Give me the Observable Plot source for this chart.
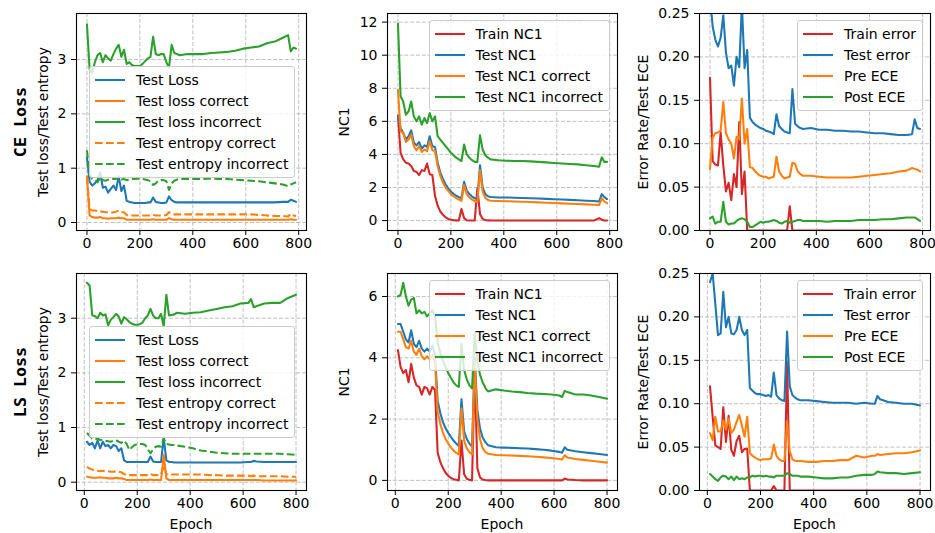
<!DOCTYPE html>
<html><head><meta charset="utf-8">
<script src="https://cdn.jsdelivr.net/npm/d3@7"></script>
<script src="https://cdn.jsdelivr.net/npm/@observablehq/plot@0.6"></script>
<style>
html,body{margin:0;padding:0;background:#fff;}
#fig{position:relative;width:935px;height:533px;overflow:hidden;font-family:'DejaVu Sans',sans-serif;color:#000;background:#fff;}
.ylab{position:absolute;font-size:14px;white-space:nowrap;transform:translate(-50%,-50%) rotate(-90deg);}
.rowlab{position:absolute;font-family:'DejaVu Sans Mono',monospace;font-weight:bold;font-size:16.7px;white-space:nowrap;transform:translate(-50%,-50%) rotate(-90deg);}
.xlab{position:absolute;font-size:14px;white-space:nowrap;transform:translate(-50%,-50%);}
.legend{position:absolute;background:rgba(255,255,255,0.8);border:1px solid #cccccc;border-radius:3px;padding:2px 6px 2px 5px;font-size:14px;}
.legend .row{display:flex;align-items:center;height:21.2px;white-space:nowrap;}
.legend svg{margin-right:11px;display:block;}
</style></head>
<body>
<div id="fig"></div>
<script>
// ---------------- data ----------------
const epochsTop = [0,10,20,30,40,50,60,70,80,90,100,110,120,130,140,150,160,170,180,190,200,210,220,230,240,250,260,270,280,290,300,310,320,330,340,350,380,410,440,470,500,530,560,590,620,650,680,710,740,760,770,780,790];
const epochsBottom = [10,20,30,40,50,60,70,80,90,100,110,120,130,140,150,160,170,180,190,200,210,220,230,240,250,260,270,280,290,300,310,320,330,340,350,380,410,440,470,500,530,560,590,620,630,640,650,680,710,740,770,800];
const xTicks = [0,200,400,600,800];

// CE loss - panel 1
const ceTestLoss = [1.2,0.75,0.68,0.72,0.78,0.92,0.64,0.66,0.55,0.62,
 0.68,0.6,0.85,0.58,0.68,0.4,0.38,0.37,0.36,0.36,
 0.36,0.36,0.36,0.37,0.37,0.46,0.38,0.37,0.36,0.36,
 0.37,0.48,0.41,0.38,0.37,0.37,
 0.37,0.37,0.37,0.37,0.37,0.37,0.37,0.37,0.37,0.37,0.37,0.37,0.38,
 0.38,0.42,0.4,0.38];
const ceLossCorrect = [0.85,0.13,0.1,0.09,0.09,0.1,0.08,0.08,0.07,0.08,
 0.08,0.08,0.09,0.08,0.08,0.05,0.05,0.05,0.05,0.05,
 0.05,0.05,0.05,0.05,0.05,0.06,0.05,0.05,0.05,0.05,
 0.05,0.08,0.06,0.05,0.05,0.05,
 0.05,0.05,0.05,0.05,0.05,0.05,0.05,0.05,0.05,0.05,0.05,0.05,0.05,
 0.05,0.06,0.05,0.05];
const ceLossIncorrect = [3.65,2.82,2.75,2.95,3.08,3.12,2.95,3.08,3.02,2.98,
 3.1,3.2,3.27,3.05,3.18,2.92,2.95,2.9,2.88,2.88,
 2.88,2.92,2.97,3.02,3.05,3.42,3.1,3.08,3.1,3.1,
 2.95,2.85,3.27,3.12,3.1,3.08,
 3.1,3.1,3.1,3.12,3.13,3.14,3.16,3.2,3.22,3.24,3.3,3.33,3.4,
 3.45,3.15,3.22,3.2];
const ceEntCorrect = [0.85,0.25,0.22,0.22,0.21,0.2,0.2,0.19,0.19,0.18,
 0.19,0.2,0.22,0.19,0.19,0.14,0.13,0.13,0.13,0.13,
 0.13,0.13,0.13,0.13,0.13,0.14,0.13,0.13,0.13,0.13,
 0.14,0.19,0.16,0.15,0.15,0.15,
 0.15,0.15,0.15,0.15,0.15,0.15,0.15,0.15,0.15,0.14,0.13,0.12,0.12,
 0.11,0.16,0.13,0.12];
const ceEntIncorrect = [1.33,0.88,0.8,0.78,0.74,0.83,0.78,0.77,0.79,0.8,
 0.8,0.8,0.84,0.79,0.8,0.78,0.79,0.8,0.8,0.81,
 0.8,0.8,0.79,0.78,0.76,0.69,0.72,0.77,0.78,0.78,
 0.76,0.6,0.72,0.77,0.79,0.8,
 0.8,0.8,0.8,0.81,0.8,0.8,0.79,0.78,0.77,0.76,0.74,0.72,0.7,
 0.67,0.7,0.72,0.74];

// CE loss - panel 2
const ceTrainNC1 = [6.35,4.1,3.7,3.5,3.45,3.3,3.0,2.95,2.75,3.05,
 3.0,3.45,2.8,2.75,1.5,0.9,0.55,0.35,0.2,0.1,
 0.05,0.02,0.01,0.0,0.7,0.15,0.02,0.0,0.0,0.0,
 1.95,0.4,0.1,0.03,0.01,0.0,
 0,0,0,0,0,0,0,0,0,0,0,0,0,
 0.15,0.05,0.0,0.0];
const ceTestNC1 = [6.3,5.6,5.3,4.9,5.1,5.45,4.7,4.55,4.75,4.35,
 4.55,4.45,5.1,4.5,4.45,3.5,2.9,2.5,2.2,1.95,
 1.75,1.62,1.5,1.42,1.35,2.35,1.8,1.6,1.45,1.35,
 1.3,3.35,2.0,1.6,1.47,1.43,
 1.4,1.4,1.38,1.37,1.35,1.33,1.31,1.29,1.27,1.25,1.23,1.2,1.18,
 1.15,1.6,1.42,1.3];
const ceTestNC1Correct = [7.9,5.4,5.3,4.75,4.9,5.2,4.5,4.25,4.5,4.15,
 4.3,4.2,4.8,4.25,4.2,3.3,2.7,2.3,2.0,1.8,
 1.6,1.47,1.36,1.27,1.2,2.15,1.6,1.4,1.27,1.18,
 1.12,3.05,1.75,1.38,1.25,1.2,
 1.18,1.17,1.15,1.14,1.12,1.1,1.08,1.06,1.04,1.02,1.0,0.98,0.96,
 0.94,1.35,1.15,1.05];
const ceTestNC1Incorrect = [11.9,7.5,7.2,6.4,6.6,7.2,6.3,6.0,6.3,5.8,
 6.2,5.9,6.5,6.0,6.3,5.1,4.9,4.7,4.5,4.3,
 4.1,3.95,3.8,3.7,3.6,4.6,4.0,3.8,3.65,3.55,
 3.55,5.15,4.3,3.95,3.8,3.7,
 3.65,3.62,3.6,3.6,3.58,3.55,3.52,3.48,3.45,3.42,3.4,3.35,3.3,
 3.25,3.82,3.55,3.55];

// CE loss - panel 3
const ceTrainErr = [0.176,0.08,0.076,0.075,0.113,0.075,0.045,0.055,0.035,0.065,
 0.05,0.125,0.042,0.068,0,0,0,0,0,0,
 0,0,0,0,0,0,0,0,0,0,
 0.028,0,0,0,0,0,
 0,0,0,0,0,0,0,0,0,0,0,0,0,
 0,0,0,0];
const ceTestErr = [0.27,0.235,0.22,0.212,0.222,0.248,0.205,0.187,0.19,0.167,
 0.2,0.188,0.26,0.187,0.208,0.13,0.125,0.122,0.12,0.118,
 0.117,0.115,0.114,0.113,0.111,0.134,0.12,0.117,0.114,0.113,
 0.112,0.163,0.123,0.12,0.118,0.117,
 0.118,0.116,0.116,0.115,0.115,0.114,0.114,0.113,0.112,0.112,0.111,0.11,0.11,
 0.111,0.128,0.118,0.117];
const cePreECE = [0.071,0.107,0.112,0.113,0.115,0.148,0.112,0.105,0.1,0.083,
 0.108,0.105,0.152,0.1,0.117,0.073,0.072,0.068,0.065,0.063,
 0.062,0.062,0.06,0.061,0.062,0.085,0.068,0.063,0.06,0.061,
 0.062,0.078,0.077,0.068,0.065,0.063,
 0.063,0.062,0.061,0.061,0.061,0.061,0.062,0.063,0.064,0.065,0.066,0.068,0.069,
 0.072,0.071,0.07,0.068];
const cePostECE = [0.014,0.016,0.008,0.01,0.01,0.033,0.01,0.007,0.008,0.008,
 0.011,0.013,0.014,0.013,0.01,0.004,0.004,0.006,0.008,0.01,
 0.009,0.01,0.01,0.011,0.012,0.011,0.009,0.008,0.01,0.011,
 0.009,0.01,0.011,0.012,0.012,0.011,
 0.011,0.011,0.01,0.011,0.011,0.011,0.012,0.012,0.012,0.013,0.013,0.014,0.015,
 0.015,0.015,0.013,0.011];

// LS loss - panel 4
const lsTestLoss = [0.74,0.68,0.72,0.62,0.76,0.62,0.74,0.66,0.68,0.62,
 0.68,0.66,0.57,0.62,0.4,0.37,0.37,0.37,0.37,0.37,
 0.37,0.37,0.37,0.37,0.47,0.38,0.37,0.37,0.37,0.82,
 0.4,0.37,0.37,0.36,0.36,
 0.36,0.36,0.36,0.36,0.36,0.36,0.36,0.36,0.37,0.37,0.39,0.38,0.37,0.37,0.37,0.37,0.37];
const lsLossCorrect = [0.1,0.09,0.08,0.08,0.08,0.09,0.08,0.08,0.07,0.07,
 0.07,0.08,0.07,0.07,0.06,0.04,0.04,0.04,0.04,0.04,
 0.04,0.04,0.04,0.04,0.05,0.04,0.04,0.04,0.04,0.5,
 0.07,0.04,0.04,0.04,0.04,
 0.04,0.04,0.04,0.04,0.04,0.04,0.04,0.04,0.04,0.04,0.04,0.04,0.03,0.03,0.03,0.03,0.03];
const lsLossIncorrect = [3.65,3.6,3.05,3.04,3.0,3.1,3.05,3.07,2.87,2.97,
 3.02,3.08,3.03,2.9,3.02,2.98,2.93,2.9,2.88,2.88,
 2.89,2.92,3.0,3.05,3.17,3.05,3.0,3.0,3.08,2.85,
 3.43,3.05,3.06,3.07,3.1,
 3.08,3.1,3.11,3.14,3.17,3.2,3.22,3.27,3.28,3.35,3.2,3.22,3.27,3.28,3.28,3.37,3.43];
const lsEntCorrect = [0.28,0.25,0.23,0.22,0.21,0.2,0.21,0.2,0.2,0.19,
 0.19,0.2,0.19,0.18,0.15,0.13,0.13,0.13,0.13,0.13,
 0.13,0.13,0.13,0.13,0.15,0.13,0.13,0.13,0.14,0.3,
 0.15,0.14,0.14,0.14,0.14,
 0.14,0.14,0.14,0.13,0.13,0.12,0.12,0.12,0.12,0.11,0.12,0.11,0.11,0.11,0.11,0.1,0.1];
const lsEntIncorrect = [0.9,0.85,0.8,0.78,0.8,0.77,0.78,0.76,0.75,0.74,
 0.76,0.77,0.74,0.72,0.76,0.7,0.59,0.64,0.68,0.69,
 0.7,0.7,0.68,0.6,0.53,0.6,0.65,0.66,0.65,0.8,
 0.7,0.69,0.68,0.68,0.67,
 0.65,0.62,0.58,0.56,0.54,0.53,0.52,0.52,0.52,0.52,0.52,0.52,0.52,0.52,0.52,0.51,0.5];

// LS loss - panel 5
const lsTrainNC1 = [4.25,3.7,3.5,3.6,3.2,3.8,3.35,3.1,3.05,2.8,
 3.05,3.0,2.8,3.05,2.95,0.9,0.6,0.4,0.25,0.15,
 0.08,0.04,0.02,0.0,1.3,0.2,0.05,0.02,0.0,3.7,
 0.4,0.1,0.03,0.01,0.0,
 0,0,0,0,0,0,0,0,0,0,0.06,0.03,0.01,0,0,0,0];
const lsTestNC1 = [5.1,5.1,4.85,4.6,4.5,4.9,4.45,4.35,4.55,4.3,
 4.2,4.3,4.2,4.4,4.1,2.6,2.2,1.9,1.7,1.55,
 1.42,1.3,1.2,1.12,2.65,1.6,1.35,1.2,1.1,4.0,
 2.3,1.7,1.4,1.25,1.15,
 1.08,1.07,1.06,1.05,1.04,1.02,1.0,0.97,0.93,0.9,1.08,1.0,0.95,0.92,0.89,0.86,0.83];
const lsTestNC1Correct = [4.85,4.85,4.6,4.35,4.3,4.55,4.2,4.1,4.3,4.05,
 3.95,4.05,3.95,4.1,3.85,2.25,1.85,1.55,1.35,1.2,
 1.07,0.97,0.9,0.85,2.35,1.3,1.05,0.92,0.85,3.85,
 2.0,1.35,1.05,0.93,0.87,
 0.83,0.82,0.81,0.8,0.79,0.77,0.75,0.73,0.7,0.68,0.82,0.75,0.7,0.67,0.64,0.61,0.58];
const lsTestNC1Incorrect = [6.0,6.05,6.45,6.0,5.7,5.9,5.95,5.45,5.55,5.45,
 5.5,5.35,5.45,5.55,5.35,4.5,4.15,3.9,3.7,3.5,
 3.35,3.2,3.1,3.05,4.45,3.6,3.3,3.1,3.0,4.8,
 3.9,3.45,3.2,3.02,2.9,
 2.97,2.93,2.9,2.88,2.85,2.83,2.82,2.8,2.77,2.72,2.92,2.88,2.8,2.8,2.77,2.72,2.66];

// LS loss - panel 6
const lsTrainErr = [0.12,0.085,0.052,0.05,0.048,0.096,0.056,0.086,0.047,0.04,
 0.057,0.063,0.044,0.048,0.048,0,0,0,0,0,
 0,0,0,0,0.005,0,0,0,0,0.148,
 0,0,0,0,0,
 0,0,0,0,0,0,0,0,0,0,0,0,0,0,0,0,0];
const lsTestErr = [0.24,0.25,0.215,0.179,0.181,0.229,0.188,0.2,0.181,0.18,
 0.185,0.2,0.185,0.179,0.185,0.118,0.115,0.112,0.111,0.111,
 0.11,0.109,0.11,0.108,0.136,0.11,0.106,0.104,0.103,0.183,
 0.12,0.11,0.107,0.105,0.104,
 0.104,0.103,0.102,0.101,0.101,0.101,0.1,0.101,0.1,0.1,0.109,0.105,0.102,0.101,0.1,0.1,0.098];
const lsPreECE = [0.066,0.058,0.085,0.068,0.068,0.081,0.07,0.083,0.066,0.07,
 0.079,0.087,0.075,0.062,0.085,0.043,0.04,0.038,0.036,0.035,
 0.036,0.036,0.036,0.037,0.053,0.04,0.036,0.034,0.034,0.08,
 0.045,0.036,0.034,0.034,0.034,
 0.033,0.033,0.034,0.034,0.035,0.035,0.04,0.038,0.04,0.04,0.042,0.041,0.042,0.043,0.043,0.044,0.046];
const lsPostECE = [0.019,0.016,0.013,0.011,0.015,0.017,0.016,0.013,0.016,0.012,
 0.016,0.013,0.014,0.013,0.015,0.015,0.017,0.016,0.017,0.017,
 0.016,0.017,0.016,0.016,0.015,0.017,0.017,0.017,0.017,0.02,
 0.019,0.017,0.017,0.017,0.016,
 0.016,0.015,0.014,0.014,0.015,0.015,0.017,0.018,0.018,0.019,0.022,0.021,0.02,0.02,0.019,0.02,0.021];

// tick labels
const lossTicks = [0,1,2,3];
const nc1TicksTop = [0,2,4,6,8,10,12];
const nc1TicksBottom = [0,2,4,6];
const errTicks = [0,0.05,0.10,0.15,0.20,0.25];

// ---------------- styles / layout ----------------
const C = {blue:"#1f77b4", orange:"#ff7f0e", green:"#2ca02c", red:"#d62728"};
const LW = 2.08, DASH = "7.7,3.3";
const fig = document.getElementById("fig");
const colLeft = [76, 387, 699], colW = [230, 230, 231];
const rowTop = [13, 273], FH = 217;
const ML = 70, MR = 10, MT = 8, MB = 30;

function makePanel(p) {
  const fl = colLeft[p.col], fw = colW[p.col], ft = rowTop[p.row];
  const marks = [
    Plot.ruleX(xTicks, {stroke:"#b0b0b0", strokeWidth:0.8, strokeDasharray:"4,1.8"}),
    Plot.ruleY(p.yTicks, {stroke:"#b0b0b0", strokeWidth:0.8, strokeDasharray:"4,1.8"})
  ];
  for (const s of p.series) {
    const pts = s.values.map((v, i) => ({epoch: p.epochs[i], value: v}));
    marks.push(Plot.line(pts, {x:"epoch", y:"value", stroke:s.color, strokeWidth:LW,
      strokeDasharray: s.dashed ? DASH : null, strokeLinecap: s.dashed ? "butt" : "round",
      strokeLinejoin:"round", clip:true}));
  }
  marks.push(Plot.frame({stroke:"black", strokeWidth:1.1}));
  const svg = Plot.plot({
    width: ML + fw + MR, height: MT + FH + MB,
    marginLeft: ML, marginRight: MR, marginTop: MT, marginBottom: MB,
    x: {domain: p.xDomain, ticks: xTicks, tickSize: 5, tickPadding: 3, label: null, tickFormat: d => String(d)},
    y: {domain: p.yDomain, ticks: p.yTicks, tickSize: 5, tickPadding: 5, label: null, tickFormat: p.yFormat},
    marks
  });
  svg.style.position = "absolute";
  svg.style.left = (fl - ML) + "px";
  svg.style.top = (ft - MT) + "px";
  svg.style.background = "transparent";
  svg.style.overflow = "visible";
  svg.style.maxWidth = "none";
  svg.style.fontFamily = "'DejaVu Sans', sans-serif";
  svg.style.fontSize = "14px";
  svg.style.color = "black";
  fig.appendChild(svg);

  // y label
  const yl = document.createElement("div");
  yl.className = "ylab";
  yl.textContent = p.yLabel;
  yl.style.left = p.yLabelX + "px";
  yl.style.top = (ft + FH / 2) + "px";
  fig.appendChild(yl);

  if (p.row === 1) {
    const xl = document.createElement("div");
    xl.className = "xlab";
    xl.textContent = "Epoch";
    xl.style.left = (fl + fw / 2) + "px";
    xl.style.top = "524px";
    fig.appendChild(xl);
  }

  // legend
  const lg = document.createElement("div");
  lg.className = "legend";
  if (p.legend === "left") {
    lg.style.left = (fl + 13) + "px";
    lg.style.top = (ft + 53) + "px";
  } else {
    lg.style.right = (935 - (fl + fw - 7)) + "px";
    lg.style.top = (ft + 7) + "px";
  }
  for (const s of p.series) {
    const row = document.createElement("div");
    row.className = "row";
    const ns = "http://www.w3.org/2000/svg";
    const sv = document.createElementNS(ns, "svg");
    sv.setAttribute("width", "30"); sv.setAttribute("height", "10");
    const ln = document.createElementNS(ns, "line");
    ln.setAttribute("x1", "0"); ln.setAttribute("x2", "30");
    ln.setAttribute("y1", "5"); ln.setAttribute("y2", "5");
    ln.setAttribute("stroke", s.color); ln.setAttribute("stroke-width", LW);
    if (s.dashed) ln.setAttribute("stroke-dasharray", DASH);
    sv.appendChild(ln);
    row.appendChild(sv);
    const t = document.createElement("span");
    t.textContent = s.name;
    row.appendChild(t);
    lg.appendChild(row);
  }
  fig.appendChild(lg);
}

const fmt2 = d3.format(".2f");
const topX = [-39.5, 829.5], botX = [-29.5, 839.5];

makePanel({row:0, col:0, epochs:epochsTop, xDomain:topX, yDomain:[-0.147, 3.847], yTicks:lossTicks, yFormat:d=>String(d),
  yLabel:"Test loss/Test entropy", yLabelX:43, legend:"left",
  series:[
    {name:"Test Loss", values:ceTestLoss, color:C.blue},
    {name:"Test loss correct", values:ceLossCorrect, color:C.orange},
    {name:"Test loss incorrect", values:ceLossIncorrect, color:C.green},
    {name:"Test entropy correct", values:ceEntCorrect, color:C.orange, dashed:true},
    {name:"Test entropy incorrect", values:ceEntIncorrect, color:C.green, dashed:true}
  ]});
makePanel({row:0, col:1, epochs:epochsTop, xDomain:topX, yDomain:[-0.6, 12.52], yTicks:nc1TicksTop, yFormat:d=>String(d),
  yLabel:"NC1", yLabelX:344, legend:"right",
  series:[
    {name:"Train NC1", values:ceTrainNC1, color:C.red},
    {name:"Test NC1", values:ceTestNC1, color:C.blue},
    {name:"Test NC1 correct", values:ceTestNC1Correct, color:C.orange},
    {name:"Test NC1 incorrect", values:ceTestNC1Incorrect, color:C.green}
  ]});
makePanel({row:0, col:2, epochs:epochsTop, xDomain:topX, yDomain:[0, 0.25], yTicks:errTicks, yFormat:fmt2,
  yLabel:"Error Rate/Test ECE", yLabelX:643, legend:"right",
  series:[
    {name:"Train error", values:ceTrainErr, color:C.red},
    {name:"Test error", values:ceTestErr, color:C.blue},
    {name:"Pre ECE", values:cePreECE, color:C.orange},
    {name:"Post ECE", values:cePostECE, color:C.green}
  ]});
makePanel({row:1, col:0, epochs:epochsBottom, xDomain:botX, yDomain:[-0.152, 3.818], yTicks:lossTicks, yFormat:d=>String(d),
  yLabel:"Test loss/Test entropy", yLabelX:43, legend:"left",
  series:[
    {name:"Test Loss", values:lsTestLoss, color:C.blue},
    {name:"Test loss correct", values:lsLossCorrect, color:C.orange},
    {name:"Test loss incorrect", values:lsLossIncorrect, color:C.green},
    {name:"Test entropy correct", values:lsEntCorrect, color:C.orange, dashed:true},
    {name:"Test entropy incorrect", values:lsEntIncorrect, color:C.green, dashed:true}
  ]});
makePanel({row:1, col:1, epochs:epochsBottom, xDomain:botX, yDomain:[-0.33, 6.75], yTicks:nc1TicksBottom, yFormat:d=>String(d),
  yLabel:"NC1", yLabelX:344, legend:"right",
  series:[
    {name:"Train NC1", values:lsTrainNC1, color:C.red},
    {name:"Test NC1", values:lsTestNC1, color:C.blue},
    {name:"Test NC1 correct", values:lsTestNC1Correct, color:C.orange},
    {name:"Test NC1 incorrect", values:lsTestNC1Incorrect, color:C.green}
  ]});
makePanel({row:1, col:2, epochs:epochsBottom, xDomain:botX, yDomain:[0, 0.25], yTicks:errTicks, yFormat:fmt2,
  yLabel:"Error Rate/Test ECE", yLabelX:643, legend:"right",
  series:[
    {name:"Train error", values:lsTrainErr, color:C.red},
    {name:"Test error", values:lsTestErr, color:C.blue},
    {name:"Pre ECE", values:lsPreECE, color:C.orange},
    {name:"Post ECE", values:lsPostECE, color:C.green}
  ]});

// row labels
for (const [txt, y] of [["CE Loss", 122], ["LS Loss", 382]]) {
  const d = document.createElement("div");
  d.className = "rowlab";
  d.textContent = txt;
  d.style.left = "20px";
  d.style.top = y + "px";
  fig.appendChild(d);
}
</script>
</body></html>
